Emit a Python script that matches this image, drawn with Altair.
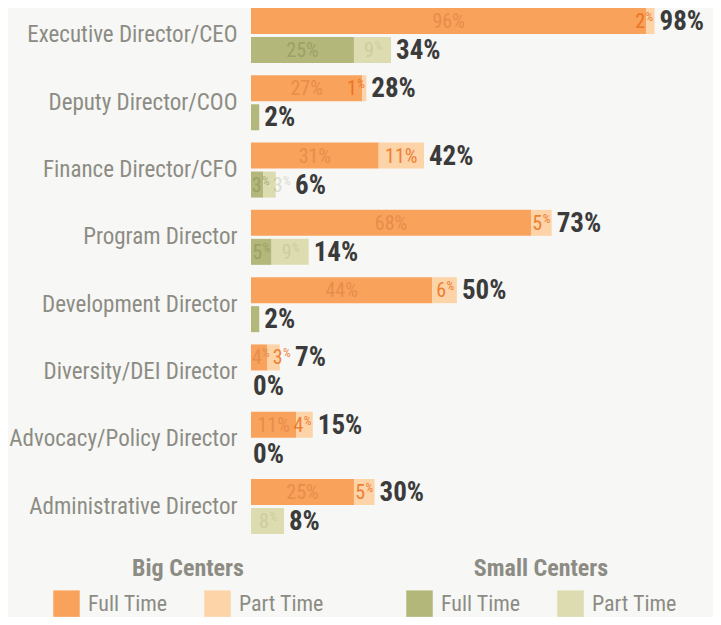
import altair as alt
import pandas as pd

roles = ["Executive Director/CEO", "Deputy Director/COO", "Finance Director/CFO",
         "Program Director", "Development Director", "Diversity/DEI Director",
         "Advocacy/Policy Director", "Administrative Director"]
big_full = [96, 27, 31, 68, 44, 4, 11, 25]
big_part = [2, 1, 11, 5, 6, 3, 4, 5]
small_full = [25, 2, 3, 5, 2, 0, 0, 0]
small_part = [9, 0, 3, 9, 0, 0, 0, 8]
centers = ["Big", "Small"]
types = ["Full Time", "Part Time"]

FONT = "Roboto Condensed, Liberation Sans Narrow, DejaVu Sans Condensed, Roboto, sans-serif"
GRAY = "#8c8c84"
DARK = "#3b3b3b"
BG = "#f7f7f5"
BIG_COLORS = ["#f9a25c", "#fdd3a8"]
SMALL_COLORS = ["#b3b77a", "#dcdcb0"]
series_names = ["Big Full Time", "Big Part Time", "Small Full Time", "Small Part Time"]
LABEL_COLORS = ["#e88c4b", "#eb6912", "#8e9257", "#b3b585"]
LABEL_OPACITY = [1, 0.39, 1, 1]

PLOT_W = 453
XMAX = 110                   # room to the right of the bars for the total labels
PX = PLOT_W / XMAX           # pixels per percentage point
HALF_SMALL = 9 / PX          # half width of a small "N%" label group
HALF_BIG = 16 / PX           # half width of a large label

rows, tot_rows = [], []
for i, r in enumerate(roles):
    for c, ft, pt in (("Big", big_full[i], big_part[i]), ("Small", small_full[i], small_part[i])):
        prev_right = -1e9
        last_small_right = 0
        for t, v, s in (("Full Time", ft, 0), ("Part Time", pt, ft)):
            if v <= 0:
                continue
            mid = s + v / 2
            rec = dict(role=r, center=c, type=t, value=v, start=s, end=s + v,
                       series=c + " " + t, label=f"{v}%", num=str(v),
                       big=v >= 10, show=True, anchor=mid)
            if v >= 10:
                prev_right = mid + HALF_BIG
            elif s == 0 and v < 3:
                rec["show"] = False
            else:
                cx = min(mid, s + v - 2 / PX - HALF_SMALL)
                cx = max(cx, HALF_SMALL, prev_right + 3 / PX + HALF_SMALL)
                prev_right = cx + HALF_SMALL
                last_small_right = prev_right
                rec["anchor"] = cx + 1.5 / PX
            rows.append(rec)
        total = ft + pt
        tot_rows.append(dict(role=r, center=c, total=total,
                             pos=max(total, last_small_right), label=f"{total}%"))

df = pd.DataFrame(rows)
tdf = pd.DataFrame(tot_rows)

y_enc = alt.Y("role:N", title=None,
              scale=alt.Scale(domain=roles, paddingInner=0.1828, paddingOuter=0),
              axis=alt.Axis(domain=False, ticks=False, tickSize=0, labelPadding=14,
                            labelFontSize=23, labelColor=GRAY, labelFont=FONT,
                            labelLimit=400, grid=False))
yoff = alt.YOffset("center:N", scale=alt.Scale(domain=centers, paddingInner=0.1034, paddingOuter=0))
xs = alt.Scale(domain=[0, XMAX], nice=False, zero=True)


def legend(title, x):
    return alt.Legend(title=title, orient="none", legendX=x, legendY=549,
                      direction="horizontal", titleAnchor="middle",
                      titleFontSize=24, titleFontWeight="bold", titleColor=GRAY,
                      titleFont=FONT, labelFont=FONT, labelFontSize=22, labelColor=GRAY,
                      symbolType="square", symbolSize=700, symbolStrokeWidth=0,
                      symbolOpacity=1, labelOffset=8, columnPadding=36,
                      titlePadding=9, padding=0)


base = alt.Chart(df)

big_bars = base.transform_filter("datum.center == 'Big'").mark_bar().encode(
    x=alt.X("start:Q", scale=xs, axis=None), x2="end:Q", y=y_enc, yOffset=yoff,
    color=alt.Color("type:N", scale=alt.Scale(domain=types, range=BIG_COLORS),
                    legend=legend("Big Centers", -198)))

small_bars = base.transform_filter("datum.center == 'Small'").mark_bar().encode(
    x=alt.X("start:Q", scale=xs, axis=None), x2="end:Q", y=y_enc, yOffset=yoff,
    color=alt.Color("type:N", scale=alt.Scale(domain=types, range=SMALL_COLORS),
                    legend=legend("Small Centers", 155)))

lab_color = alt.Color("series:N", scale=alt.Scale(domain=series_names, range=LABEL_COLORS),
                      legend=None)
lab_op = alt.Opacity("series:N", scale=alt.Scale(domain=series_names, range=LABEL_OPACITY),
                     legend=None)

big_labels = base.transform_filter("datum.big").mark_text(
    font=FONT, fontSize=20, align="center", baseline="middle", dy=1).encode(
    x=alt.X("anchor:Q", scale=xs, axis=None), y=y_enc, yOffset=yoff, text="label:N",
    color=lab_color, opacity=lab_op)

small_nums = base.transform_filter("!datum.big && datum.show").mark_text(
    font=FONT, fontSize=20, align="right", baseline="middle", dy=1).encode(
    x=alt.X("anchor:Q", scale=xs, axis=None), y=y_enc, yOffset=yoff, text="num:N",
    color=lab_color, opacity=lab_op)

small_pct = base.transform_filter("!datum.big && datum.show").mark_text(
    font=FONT, fontSize=12, align="left", baseline="middle", dx=0.5, dy=-4).encode(
    x=alt.X("anchor:Q", scale=xs, axis=None), y=y_enc, yOffset=yoff,
    text=alt.value("%"), color=lab_color, opacity=lab_op)

tbase = alt.Chart(tdf)
totals = tbase.transform_filter("datum.total > 0").mark_text(
    font=FONT, fontSize=27, fontWeight="bold", align="left", baseline="middle",
    dx=5, dy=1, color=DARK).encode(
    x=alt.X("pos:Q", scale=xs, axis=None), y=y_enc, yOffset=yoff, text="label:N")

zeros = tbase.transform_filter("datum.total == 0").mark_text(
    font=FONT, fontSize=27, fontWeight="bold", align="left", baseline="middle",
    dx=2, dy=1, color=DARK).encode(
    x=alt.X("pos:Q", scale=xs, axis=None), y=y_enc, yOffset=yoff, text="label:N")

chart = alt.layer(big_bars, small_bars, big_labels, small_nums, small_pct, totals, zeros).resolve_scale(
    color="independent", opacity="independent"
).properties(
    width=PLOT_W, height=526,
    padding={"left": 243, "top": 0, "right": 705 - 243 - PLOT_W, "bottom": 83},
    autosize=alt.AutoSizeParams(type="none"),
    background=BG,
).configure_view(stroke=None)

chart.save("out.html", embed_options={"renderer": "svg", "actions": False})
